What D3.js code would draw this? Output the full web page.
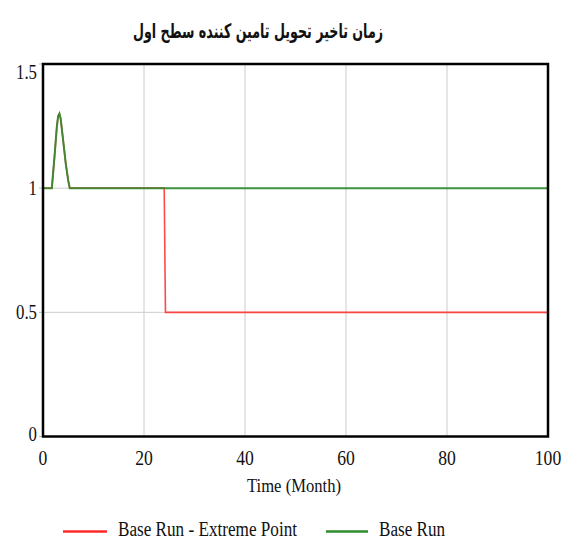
<!DOCTYPE html>
<html>
<head>
<meta charset="utf-8">
<script src="https://cdn.jsdelivr.net/npm/d3@7"></script>
<style>
  html, body { margin: 0; padding: 0; background: #fff; }
  svg { display: block; }
</style>
</head>
<body>
<svg id="chart" width="562" height="542"></svg>
<script>
// Chart text
const titleText = "زمان تاخیر تحویل تامین کننده سطح اول";
const xAxisTitle = "Time (Month)";
const seriesNames = ["Base Run - Extreme Point", "Base Run"];

// Tick labels
const xTicks = [0, 20, 40, 60, 80, 100];
const yTicks = [0, 0.5, 1, 1.5];
const yTickLabels = ["0", "0.5", "1", "1.5"];

// Base Run series (time in months, value)
const baseTime  = [0, 1.75, 2.25, 2.75, 3.0, 3.25, 3.5, 4.0, 4.5, 5.0, 5.3, 100];
const baseValue = [1, 1,    1.12, 1.25, 1.29, 1.30, 1.28, 1.19, 1.10, 1.03, 1,   1];

// Base Run - Extreme Point series
const extremeTime  = [0, 1.75, 2.25, 2.75, 3.0, 3.25, 3.5, 4.0, 4.5, 5.0, 5.3, 24, 24.25, 100];
const extremeValue = [1, 1,    1.12, 1.25, 1.29, 1.30, 1.28, 1.19, 1.10, 1.03, 1,   1,  0.5,   0.5];

const colors = ["#ff2a2a", "#2e8b2e"];

const svg = d3.select("#chart");
const plotLeft = 43, plotRight = 548, plotTop = 64, plotBottom = 436.5;

const x = d3.scaleLinear().domain([0, 100]).range([plotLeft, plotRight]);
const y = d3.scaleLinear().domain([0, 1.5]).range([plotBottom, plotTop]);

// Gridlines
svg.append("g").selectAll("line")
  .data(xTicks.filter(d => d > 0 && d < 100))
  .join("line")
  .attr("x1", d => x(d)).attr("x2", d => x(d))
  .attr("y1", plotTop).attr("y2", plotBottom)
  .attr("stroke", "#cccccc").attr("stroke-width", 1);

svg.append("g").selectAll("line")
  .data(yTicks.filter(d => d > 0 && d < 1.5))
  .join("line")
  .attr("x1", plotLeft).attr("x2", plotRight)
  .attr("y1", d => y(d)).attr("y2", d => y(d))
  .attr("stroke", "#cccccc").attr("stroke-width", 1);

// Small outer ticks on the value axis
svg.append("g").selectAll("line")
  .data(yTicks)
  .join("line")
  .attr("x1", plotLeft - 4).attr("x2", plotLeft)
  .attr("y1", d => y(d)).attr("y2", d => y(d))
  .attr("stroke", "#bbbbbb").attr("stroke-width", 1);

// Series lines
const line = d3.line().x(d => x(d[0])).y(d => y(d[1]));
const extremeData = extremeTime.map((t, i) => [t, extremeValue[i]]);
const baseData = baseTime.map((t, i) => [t, baseValue[i]]);

svg.append("path").datum(extremeData)
  .attr("d", line).attr("fill", "none")
  .attr("stroke", colors[0]).attr("stroke-width", 1.6).attr("stroke-opacity", 0.85);

svg.append("path").datum(baseData)
  .attr("d", line).attr("fill", "none")
  .attr("stroke", colors[1]).attr("stroke-width", 2).attr("stroke-opacity", 0.9);

// Frame
svg.append("rect")
  .attr("x", plotLeft).attr("y", plotTop)
  .attr("width", plotRight - plotLeft).attr("height", plotBottom - plotTop)
  .attr("fill", "none").attr("stroke", "#000").attr("stroke-width", 2.5);

// Title
svg.append("text")
  .attr("x", 258).attr("y", 38)
  .attr("text-anchor", "middle")
  .attr("font-family", "'DejaVu Sans', 'Noto Sans', sans-serif")
  .attr("font-weight", "bold")
  .attr("font-size", 20)
  .attr("direction", "rtl")
  .attr("textLength", 250).attr("lengthAdjust", "spacingAndGlyphs")
  .attr("fill", "#111")
  .text(titleText);

const serif = "'Liberation Serif', 'Times New Roman', serif";

// Value axis labels
svg.append("g").selectAll("text")
  .data(yTicks)
  .join("text")
  .attr("transform", d => {
    const yy = d === 1.5 ? y(d) + 15 : (d === 0 ? y(d) + 4 : y(d) + 7);
    return `translate(37,${yy}) scale(0.8,1)`;
  })
  .attr("text-anchor", "end")
  .attr("font-family", serif).attr("font-size", 21)
  .attr("fill", "#111")
  .text((d, i) => yTickLabels[i]);

// Time axis labels
svg.append("g").selectAll("text")
  .data(xTicks)
  .join("text")
  .attr("transform", d => `translate(${x(d)},465) scale(0.88,1)`)
  .attr("text-anchor", "middle")
  .attr("font-family", serif).attr("font-size", 20)
  .attr("fill", "#111")
  .text(d => d);

svg.append("text")
  .attr("x", 294).attr("y", 492)
  .attr("text-anchor", "middle")
  .attr("font-family", serif).attr("font-size", 19)
  .attr("textLength", 94).attr("lengthAdjust", "spacingAndGlyphs")
  .attr("fill", "#111")
  .text(xAxisTitle);

// Legend
const legendItems = [
  { x0: 63, x1: 107, tx: 118, tw: 179 },
  { x0: 326, x1: 368, tx: 379, tw: 66 }
];
const lg = svg.append("g");
legendItems.forEach((it, i) => {
  lg.append("line")
    .attr("x1", it.x0).attr("x2", it.x1)
    .attr("y1", 531.5).attr("y2", 531.5)
    .attr("stroke", colors[i]).attr("stroke-width", 2.5);
  lg.append("text")
    .attr("x", it.tx).attr("y", 536)
    .attr("font-family", serif).attr("font-size", 20)
    .attr("textLength", it.tw).attr("lengthAdjust", "spacingAndGlyphs")
    .attr("fill", "#111")
    .text(seriesNames[i]);
});
</script>
</body>
</html>
